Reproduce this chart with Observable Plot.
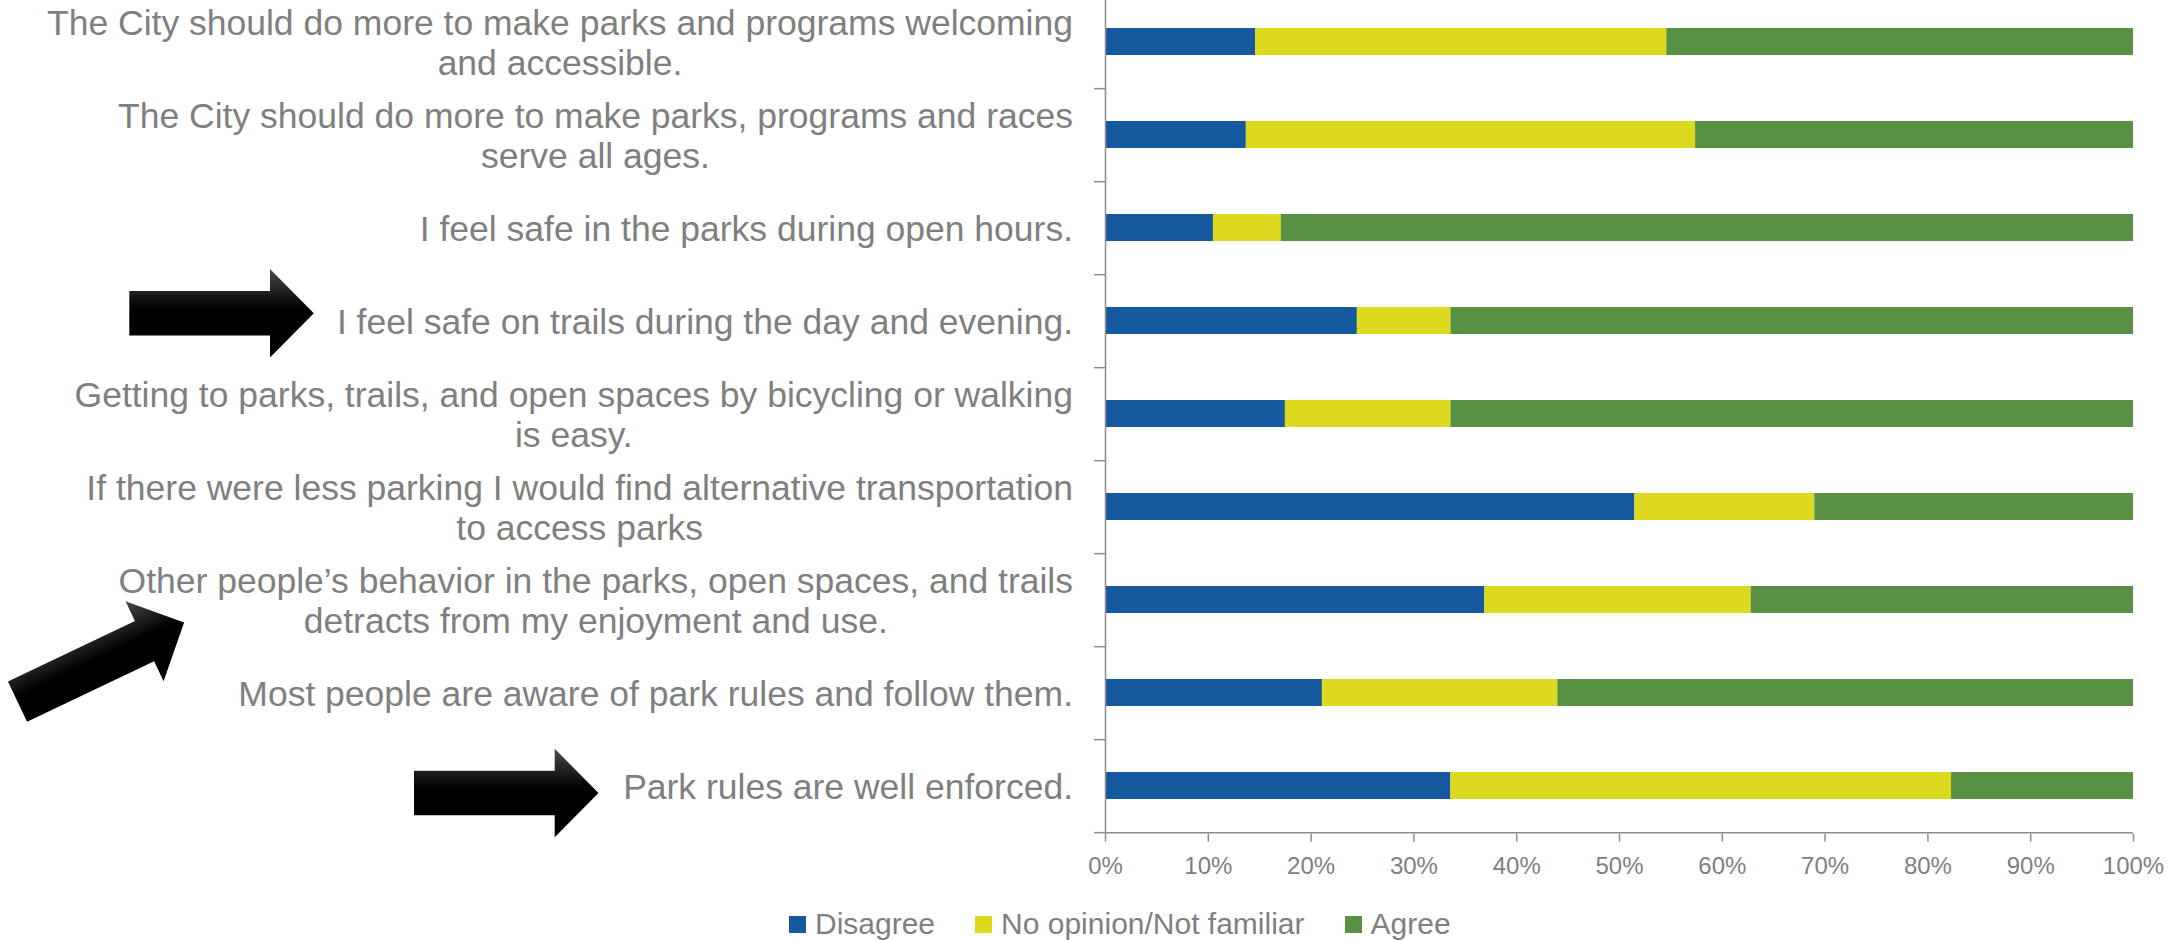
<!DOCTYPE html>
<html>
<head>
<meta charset="utf-8">
<script src="https://cdn.jsdelivr.net/npm/d3@7"></script>
<script src="https://cdn.jsdelivr.net/npm/@observablehq/plot@0.6"></script>
<style>
  html, body { margin: 0; padding: 0; background: #fff; }
  #wrap { position: relative; width: 2169px; height: 940px; overflow: hidden; font-family: "Liberation Sans", Arial, sans-serif; }
  #chart { position: absolute; left: 0; top: 0; }
  #arrows { position: absolute; left: 0; top: 0; pointer-events: none; }
  #legend { position: absolute; left: 789px; top: 907px; display: flex; align-items: center; font-size: 30px; line-height: 34px; color: #7f7f7f; white-space: nowrap; }
  .item { display: flex; align-items: center; margin-right: 40px; }
  .sw { width: 17px; height: 17px; margin-right: 9px; }
</style>
</head>
<body>
<div id="wrap">
  <div id="chart"></div>
  <svg id="arrows" width="2169" height="940"></svg>
  <div id="legend"></div>
</div>
<script>
// ---- data ----
const statements = [
  "The City should do more to make parks and programs welcoming\nand accessible.",
  "The City should do more to make parks, programs and races\nserve all ages.",
  "I feel safe in the parks during open hours.",
  "I feel safe on trails during the day and evening.",
  "Getting to parks, trails, and open spaces by bicycling or walking\nis easy.",
  "If there were less parking I would find alternative transportation\nto access parks",
  "Other people\u2019s behavior in the parks, open spaces, and trails\ndetracts from my enjoyment and use.",
  "Most people are aware of park rules and follow them.",
  "Park rules are well enforced."
];
const disagree  = [14.6, 13.7, 10.5, 24.5, 17.5, 51.5, 36.9, 21.1, 33.6];
const noOpinion = [40.0, 43.7,  6.6,  9.1, 16.1, 17.5, 25.9, 22.9, 48.7];
const agree     = [45.4, 42.6, 82.9, 66.4, 66.4, 31.0, 37.2, 56.0, 17.7];
const responses = ["Disagree", "No opinion/Not familiar", "Agree"];
const responseColors = ["#17599F", "#DDD91F", "#589144"];
const xTicks = [0, 10, 20, 30, 40, 50, 60, 70, 80, 90, 100];
const highlighted = [3, 6, 8]; // statements marked with arrows

// ---- table built from the arrays ----
const series = [disagree, noOpinion, agree];
const table = [];
statements.forEach((s, i) => {
  responses.forEach((r, j) => table.push({statement: s, response: r, value: series[j][i]}));
});

// ---- layout ----
const W = 2169, H = 890;
const yTop = -6.3, yBottom = 833.7;
const step = (yBottom - yTop) / statements.length;
const axisColor = "#8c8c8c";
const textColor = "#7f7f7f";
const labelRight = 1073;

const chart = Plot.plot({
  width: W,
  height: H,
  marginLeft: 1105,
  marginRight: 36,
  marginTop: 0,
  marginBottom: H - yBottom,
  style: {fontFamily: '"Liberation Sans", Arial, sans-serif', background: "transparent", overflow: "visible"},
  x: {domain: [0, 100], label: null},
  y: {domain: statements, range: [yTop, yBottom], paddingInner: 0.714, paddingOuter: 0.357, label: null},
  color: {domain: responses, range: responseColors},
  marks: [
    Plot.barX(table, {x: "value", y: "statement", fill: "response", order: responses}),
    Plot.ruleX([0], {stroke: axisColor, strokeWidth: 1.5}),
    Plot.ruleY([statements[statements.length - 1]], {x1: 0, x2: 100, dy: step / 2, stroke: axisColor, strokeWidth: 1.5}),
    Plot.axisY({tickSize: 11, text: null, dy: step / 2, stroke: axisColor, strokeWidth: 1.5}),
    Plot.axisY({tickSize: 0, tickPadding: 0, textAnchor: "middle", lineHeight: 1.13, fontSize: 35.5, fill: textColor}),
    Plot.axisX({ticks: xTicks, tickFormat: d => d + "%", tickSize: 8, tickPadding: 15, fontSize: 24, fill: textColor, stroke: axisColor, strokeWidth: 1.5})
  ]
});
document.getElementById("chart").appendChild(chart);

// Excel-style wrapped labels: lines centred on each other, block right-aligned
const flat = new Set(statements.map(s => s.replace(/\n/g, "")));
chart.querySelectorAll("text").forEach(t => {
  if (!flat.has(t.textContent.replace(/\n/g, ""))) return;
  const r = t.getBoundingClientRect();
  const svgR = chart.getBoundingClientRect();
  const dx = (svgR.left + labelRight) - r.right;
  t.setAttribute("transform", (t.getAttribute("transform") || "") + ` translate(${dx},0)`);
});

// ---- legend ----
const legend = d3.select("#legend");
responses.forEach((r, i) => {
  const it = legend.append("div").attr("class", "item");
  it.append("div").attr("class", "sw").style("background", responseColors[i]);
  it.append("span").text(r);
});

// ---- arrow call-outs ----
const arrowsSvg = d3.select("#arrows");
const grad = arrowsSvg.append("defs").append("linearGradient")
  .attr("id", "ag").attr("x1", 0).attr("y1", 0).attr("x2", 0).attr("y2", 1);
grad.append("stop").attr("offset", "0%").attr("stop-color", "#4a4a4a");
grad.append("stop").attr("offset", "45%").attr("stop-color", "#000");
grad.append("stop").attr("offset", "100%").attr("stop-color", "#000");
const L = 184.5, hs = 22.3, hh = 44.3, hl = 43.8;
const arrowShape = [[0, -hs], [L - hl, -hs], [L - hl, -hh], [L, 0], [L - hl, hh], [L - hl, hs], [0, hs]];
const arrowPlacements = [
  {x: 129.3, y: 313.3, angle: 0},
  {x: 17.5, y: 701.7, angle: -25.46},
  {x: 414, y: 793, angle: 0}
];
arrowPlacements.forEach(a => {
  arrowsSvg.append("polygon")
    .attr("points", arrowShape.map(p => p.join(",")).join(" "))
    .attr("transform", `translate(${a.x},${a.y}) rotate(${a.angle})`)
    .attr("fill", "url(#ag)");
});
</script>
</body>
</html>
